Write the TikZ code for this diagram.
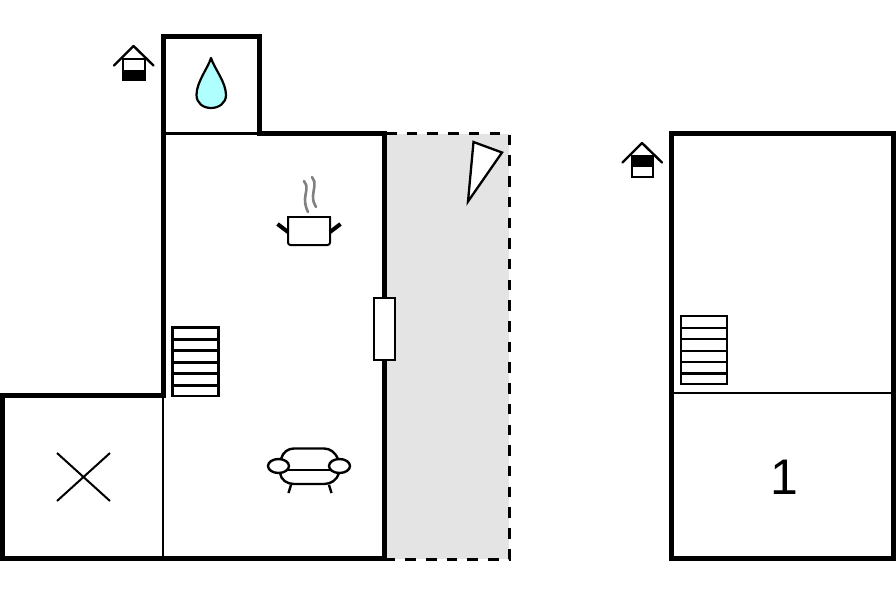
\documentclass[tikz,border=0pt]{standalone}
\usepackage{fontspec}
\setmainfont{Liberation Sans}
\definecolor{dropfill}{RGB}{176,255,255}
\definecolor{terrace}{RGB}{228,228,228}
\tikzset{
  wall/.style={line width=5pt,line join=miter,line cap=butt},
  thin wall/.style={line width=2.3pt},
  sym/.style={line width=2.4pt,line join=round},
  stairbox/.style={line width=2.4pt},
}
\begin{document}
\begin{tikzpicture}[x=1pt,y=-1pt]
\useasboundingbox (0,0) rectangle (896,597);
% terrace
\fill[terrace] (386,133.5) rectangle (509,559);
\draw[line width=3pt,dash pattern=on 10.5pt off 10.2pt] (386,133.5) -- (509,133.5) -- (509,559) -- (386,559);
% thin walls
\draw[thin wall] (163,133.5) -- (260,133.5);
\draw[thin wall] (163,395) -- (163,558);
\draw[thin wall] (671,393) -- (894,393);
% left building outer wall
\draw[wall] (163,395) -- (163,36.7) -- (259.7,36.7) -- (259.7,133.5) -- (384,133.5) -- (384,558) -- (2.2,558) -- (2.2,395) -- cycle;
% right building
\draw[wall] (671,133.5) rectangle (893.8,558);
% door
\draw[line width=2.2pt,fill=white] (373.8,298) rectangle (394.8,360);
% roof icon left
\draw[sym,line cap=round] (114,65.5) -- (133.5,46) -- (153.5,65.5);
\draw[line width=2.2pt,fill=white] (123,59) rectangle (145,80);
\fill (122,70) rectangle (146,81);
% roof icon right
\draw[sym,line cap=round] (622.5,162.5) -- (642,143) -- (662,162.5);
\draw[line width=2.2pt,fill=white] (632,156) rectangle (653,177);
\fill (631,155) rectangle (654,167);
% drop
\draw[line width=2.2pt,fill=dropfill,line join=round] (211,58)
  .. controls (214,68) and (226,82) .. (226,95)
  .. controls (226,103) and (219,108) .. (211,108)
  .. controls (203,108) and (196.5,103) .. (196.5,95)
  .. controls (196.5,82) and (208,68) .. (211,58) -- cycle;
% triangle
\draw[line width=2.3pt,fill=white,line join=miter] (473.5,142) -- (502,152.5) -- (468,201.5) -- cycle;
% pot
\draw[line width=2pt,rounded corners=2.5pt] (288,217) -- (288,245) -- (330,245) -- (330,217);
\draw[line width=2pt] (287,217) -- (331,217);
\draw[line width=4pt] (277.5,224) -- (288,232);
\draw[line width=4pt] (340.5,224) -- (330,232);
\draw[gray,line width=2.6pt,line cap=round] (304,181)
  .. controls (309,186) and (305,194) .. (305,199)
  .. controls (305,204) and (306,208) .. (308,212);
\draw[gray,line width=2.6pt,line cap=round] (312,177)
  .. controls (317,182) and (313,191) .. (313,196)
  .. controls (313,201) and (314,204) .. (316,207);
% sofa
\draw[sym] (281,459) .. controls (283,452) and (288,448.5) .. (294,448.5) -- (324,448.5) .. controls (330,448.5) and (335,452) .. (338,459);
\draw[sym] (288,470) -- (330,470);
\draw[sym] (280,473) .. controls (281,480) and (287,484) .. (294,484) -- (324,484) .. controls (331,484) and (337,480) .. (339,473);
\draw[sym] (278.5,466) ellipse [x radius=10.5,y radius=7];
\draw[sym] (339.5,466) ellipse [x radius=10.5,y radius=7];
\draw[sym] (291,485) -- (288.5,493);
\draw[sym] (329,485) -- (331.5,493);
% stairs left
\draw[stairbox] (172.5,327.3) rectangle (218.3,396);
\foreach \yy in {339.3,350.3,362.3,373.3,385.5} \draw[stairbox] (172.5,\yy) -- (218.3,\yy);
% stairs right
\draw[stairbox] (681,316) rectangle (727,384);
\foreach \yy in {328,339,351,362,373.5} \draw[stairbox] (681,\yy) -- (727,\yy);
% cross
\draw[line width=2pt] (57,453) -- (110,501);
\draw[line width=2pt] (110,453) -- (57,501);
% label
\node[font=\fontsize{50}{50}\selectfont,inner sep=0pt] (num) at (784.5,477) {1};
\end{tikzpicture}
\end{document}
